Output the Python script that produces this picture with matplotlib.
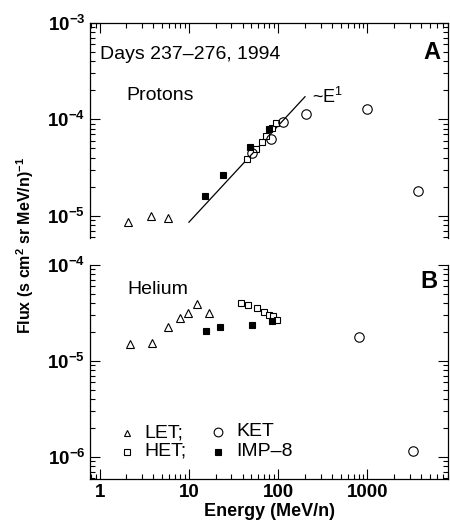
import numpy as np
import matplotlib
matplotlib.use("Agg")
import matplotlib.pyplot as plt
from matplotlib.ticker import LogLocator, FixedLocator, NullFormatter, FuncFormatter

plt.rcParams['font.family'] = ['Liberation Sans', 'DejaVu Sans']
plt.rcParams['mathtext.fontset'] = 'custom'
plt.rcParams['mathtext.rm'] = 'Liberation Sans'
plt.rcParams['mathtext.bf'] = 'Liberation Sans:bold'
plt.rcParams['mathtext.it'] = 'Liberation Sans:italic'

# ---------------- data: protons (panel A) ----------------
p_let_E = [2.1, 3.8, 5.85]
p_let_F = [8.6e-6, 1.0e-5, 9.6e-6]
p_het_E = [45, 56, 66, 74, 86, 94]
p_het_F = [3.85e-5, 4.9e-5, 5.8e-5, 6.7e-5, 8.2e-5, 9.1e-5]
p_ket_E = [51, 83, 112, 205, 1000, 3670]
p_ket_F = [4.5e-5, 6.2e-5, 9.4e-5, 1.15e-4, 1.27e-4, 1.8e-5]
p_imp_E = [15.1, 24, 48, 79]
p_imp_F = [1.6e-5, 2.65e-5, 5.16e-5, 7.9e-5]
fit_E = [10, 200]
fit_F = [8.6e-6, 1.72e-4]

# ---------------- data: helium (panel B) ----------------
h_let_E = [2.17, 3.87, 5.85, 7.9, 9.8, 12.4, 17]
h_let_F = [1.49e-5, 1.53e-5, 2.28e-5, 2.8e-5, 3.2e-5, 3.9e-5, 3.15e-5]
h_het_E = [38.7, 46.4, 58.5, 69.6, 79, 88, 98]
h_het_F = [4.0e-5, 3.83e-5, 3.54e-5, 3.27e-5, 3.0e-5, 2.97e-5, 2.67e-5]
h_ket_E = [798, 3230]
h_ket_F = [1.77e-5, 1.16e-6]
h_imp_E = [15.4, 22.3, 51, 85]
h_imp_F = [2.07e-5, 2.25e-5, 2.4e-5, 2.63e-5]

xticks = [1, 10, 100, 1000]
xticklabels = ['1', '10', '100', '1000']
legend_labels = ['LET;', 'HET;', 'KET', 'IMP\u20138']

W, H = 450, 523
fig = plt.figure(figsize=(W / 100, H / 100), dpi=100)

A_BOX = (90, 23, 448, 238)
B_BOX = (90, 265, 448, 479)

def frac(x0, y0, x1, y1):
    return [x0 / W, 1 - y1 / H, (x1 - x0) / W, (y1 - y0) / H]

axA = fig.add_axes(frac(*A_BOX))
axB = fig.add_axes(frac(*B_BOX))

mk = dict(color='black', linestyle='none', markeredgewidth=0.8)

def plot_set(ax, let, het, ket, imp):
    ax.plot(*let, marker='^', ms=5.5, mfc='white', **mk, zorder=3)
    ax.plot(*het, marker='s', ms=4.6, mfc='white', **mk, zorder=3)
    ax.plot(*ket, marker='o', ms=6.8, mfc='none', **mk, zorder=4)
    ax.plot(*imp, marker='s', ms=4.6, mfc='black', **mk, zorder=5)

plot_set(axA, (p_let_E, p_let_F), (p_het_E, p_het_F), (p_ket_E, p_ket_F), (p_imp_E, p_imp_F))
axA.plot(fit_E, fit_F, color='black', lw=0.9, zorder=2)
plot_set(axB, (h_let_E, h_let_F), (h_het_E, h_het_F), (h_ket_E, h_ket_F), (h_imp_E, h_imp_F))

def yfmt(v, pos):
    e = int(round(np.log10(v)))
    return '10$^{\\mathbf{-%d}}$' % (-e)

for ax, ylim in ((axA, (5.9e-6, 1e-3)), (axB, (5.9e-7, 1e-4))):
    ax.set_xscale('log')
    ax.set_yscale('log')
    ax.set_xlim(0.78, 8000)
    ax.set_ylim(*ylim)
    ax.xaxis.set_major_locator(FixedLocator(xticks))
    ax.xaxis.set_minor_locator(LogLocator(base=10, subs=np.arange(2, 10)))
    ax.yaxis.set_major_locator(LogLocator(base=10, numticks=10))
    ax.yaxis.set_minor_locator(LogLocator(base=10, subs=np.arange(2, 10), numticks=10))
    ax.xaxis.set_minor_formatter(NullFormatter())
    ax.yaxis.set_minor_formatter(NullFormatter())
    ax.yaxis.set_major_formatter(FuncFormatter(yfmt))
    ax.tick_params(which='major', direction='in', length=7, width=0.8, labelsize=13.5)
    ax.tick_params(which='minor', direction='in', length=3.5, width=0.8)
    for s in ax.spines.values():
        s.set_linewidth(0.9)

axA.spines['bottom'].set_visible(False)
axA.tick_params(which='both', top=True, bottom=False, labelbottom=False, left=True, right=True)
axB.spines['top'].set_visible(False)
axB.tick_params(which='both', top=False, bottom=True, left=True, right=True)
axB.set_xticklabels(xticklabels, fontweight='bold')
for ax in (axA, axB):
    for lab in ax.get_yticklabels():
        lab.set_fontweight('bold')

fig.text(0.5 * (90 + 448) / W, 1 - 512 / H, 'Energy (MeV/n)', fontsize=13, fontweight='bold',
         ha='center', va='center')
fig.text(25 / W, 1 - 245 / H, 'Flux (s cm$^{\\mathbf{2}}$ sr MeV/n)$^{\\mathbf{-1}}$',
         rotation=90, ha='center', va='center', fontsize=11.5, fontweight='bold')

def afrac(box, px, py):
    x0, y0, x1, y1 = box
    return ((px - x0) / (x1 - x0), 1 - (py - y0) / (y1 - y0))

axA.text(*afrac(A_BOX, 100, 55), 'Days 237\u2013276, 1994',
         transform=axA.transAxes, fontsize=14, va='center', ha='left')
axA.text(*afrac(A_BOX, 126, 95), 'Protons',
         transform=axA.transAxes, fontsize=14, va='center', ha='left')
axA.text(*afrac(A_BOX, 312, 97), '~E$^{1}$',
         transform=axA.transAxes, fontsize=13, va='center', ha='left')
axA.text(*afrac(A_BOX, 440, 53), 'A',
         transform=axA.transAxes, fontsize=17, fontweight='bold', va='center', ha='right')

axB.text(*afrac(B_BOX, 127, 290), 'Helium',
         transform=axB.transAxes, fontsize=14, va='center', ha='left')
axB.text(*afrac(B_BOX, 438, 282), 'B',
         transform=axB.transAxes, fontsize=17, fontweight='bold', va='center', ha='right')

# legend drawn as markers + text
leg_markers = [('^', 'white', 5.0), ('s', 'white', 4.2), ('o', 'none', 6.3), ('s', 'black', 4.2)]
leg_pos = [(126.7, 432.5), (126.7, 451.5), (218, 431.5), (218, 451.5)]
for (m, fc, msz), (px, py), txt in zip(leg_markers, leg_pos, legend_labels):
    fx, fy = afrac(B_BOX, px, py)
    axB.plot([fx], [fy], marker=m, ms=msz, mfc=fc, mec='black', mew=0.8,
             linestyle='none', transform=axB.transAxes, clip_on=False)
    tx, _ = afrac(B_BOX, px + 18, py)
    axB.text(tx, fy, txt, transform=axB.transAxes, fontsize=14, va='center', ha='left')

fig.savefig('out.png', dpi=100)
